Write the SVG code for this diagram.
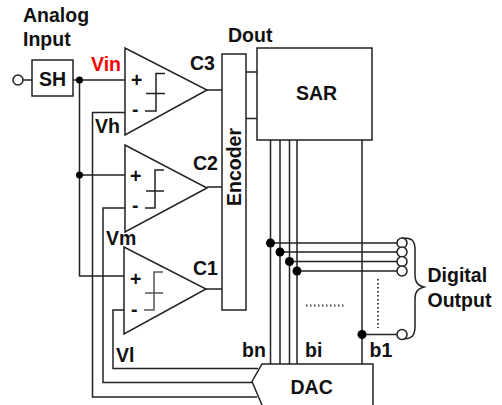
<svg xmlns="http://www.w3.org/2000/svg" width="502" height="405" viewBox="0 0 502 405">
<style>
.l{fill:none;stroke:#222;stroke-width:1.5}
.b{fill:#fff;stroke:#222;stroke-width:1.5}
.d{fill:#000}
.g{fill:none;stroke:#555;stroke-width:1.5}
.o{fill:none;stroke:#444;stroke-width:2;stroke-dasharray:1.500 2.500}
text{font-family:"Liberation Sans",Arial,sans-serif;font-weight:bold;font-size:19.5px;fill:#111}
</style>
<g id="connectors">
<path class="l" d="M23 80H32M73 80H125M79.500 80V276H124M79.500 175H125"/>
<path class="l" d="M125 112.500H92.500V397H257"/>
<path class="l" d="M125 208H103V382.500H252"/>
<path class="l" d="M124 310H113V368.500H258"/>
<path class="l" d="M207 90H222M207 187H222M206 289H222"/>
<path class="l" d="M246 72H257M246 118.500H257"/>
<path class="l" d="M270.500 140V364M280 140V364M289.500 140V364M297 140V364M362 140V364"/>
<path class="l" d="M270.500 243H397M280 252H397M289.500 261.500H397M297 271H397M362 334.500H397"/>
<path class="l" d="M145 111H156V73.500H165M146 93.500H165"/>
<path class="l" d="M145 208H155V170H164M146 191H164"/>
<path class="g" d="M144 310H154V272H163M145 293H163"/>
<path class="o" d="M306 305.500H346M378 279V328"/>
<circle class="d" cx="79.500" cy="80" r="3.500"/>
<circle class="d" cx="79.500" cy="175" r="3.500"/>
<circle class="d" cx="270.500" cy="243" r="4.500"/>
<circle class="d" cx="280" cy="252" r="4.500"/>
<circle class="d" cx="289.500" cy="261.500" r="4.500"/>
<circle class="d" cx="297" cy="271" r="4.500"/>
<circle class="d" cx="362" cy="334.500" r="4.500"/>
<path class="l" d="M402 238C412 238 415 240 415 250V274C415 282 417 285 424 287C417 289 415 292 415 300V326C415 336 412 339 402 339"/>
</g>
<g id="input"><circle class="b" cx="18" cy="80" r="5"/></g>
<g id="sh"><rect class="b" x="32" y="60" width="41" height="36"/><text x="39" y="86">SH</text></g>
<g id="c3"><path class="l" d="M125 48V135L207 90Z"/><text x="131" y="86.500">+</text><text x="132" y="116">-</text><text x="190" y="69.500">C3</text></g>
<g id="c2"><path class="l" d="M125 145V232L207 188Z"/><text x="130" y="183">+</text><text x="132" y="212">-</text><text x="193" y="170">C2</text></g>
<g id="c1"><path class="l" d="M124 247V334L206 289Z"/><text x="130" y="285.500">+</text><text x="131" y="315.500">-</text><text x="193" y="275">C1</text></g>
<g id="encoder"><rect class="b" x="222" y="54" width="24" height="256"/><text transform="translate(240.500 206) rotate(-90)">Encoder</text></g>
<g id="sar"><rect class="b" x="257" y="48" width="115" height="92"/><text x="296" y="100">SAR</text></g>
<g id="dac"><path class="b" d="M373 405V364H262L252 381.500L262 405"/><text x="290.500" y="394">DAC</text></g>
<g id="outputs">
<circle class="b" cx="402" cy="243" r="5"/><circle class="b" cx="402" cy="252" r="5"/><circle class="b" cx="402" cy="261.500" r="5"/><circle class="b" cx="402" cy="271" r="5"/><circle class="b" cx="402" cy="334.500" r="5"/>
</g>
<g id="labels">
<text x="23" y="21.500">Analog</text><text x="23" y="45.500">Input</text>
<text x="91" y="71" style="fill:#f00">Vin</text>
<text x="95" y="133">Vh</text><text x="106" y="245">Vm</text><text x="116" y="362">Vl</text>
<text x="228" y="41.500">Dout</text>
<text x="242" y="357">bn</text><text x="305" y="357">bi</text><text x="369.500" y="357">b1</text>
<text x="427.500" y="281.500">Digital</text><text x="427.500" y="306.500">Output</text>
</g>
</svg>
